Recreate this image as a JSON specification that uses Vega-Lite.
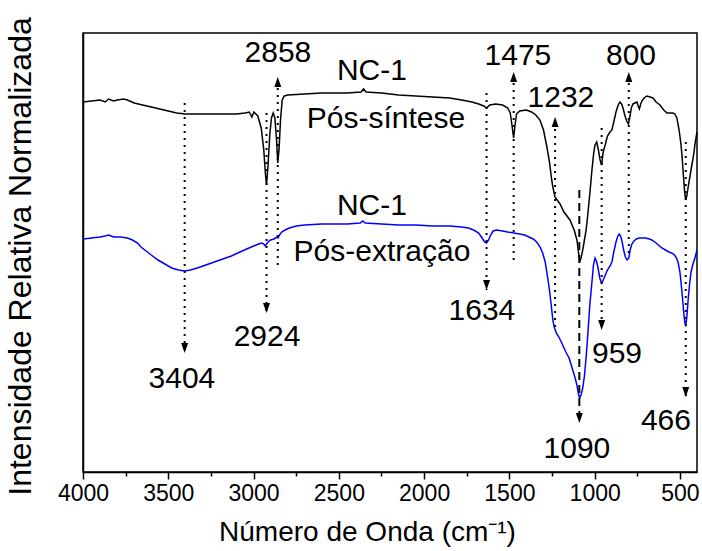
{
  "$schema": "https://vega.github.io/schema/vega-lite/v6.json",
  "width": 614,
  "height": 439,
  "autosize": {"type": "none"},
  "padding": {"left": 83, "top": 33, "right": 5, "bottom": 79},
  "background": "white",
  "config": {
    "font": "Liberation Sans",
    "view": {"stroke": "#000000", "strokeWidth": 1.5}
  },
  "datasets": {
    "black": [
      {"wn":4000,"y":370},{"wn":3950,"y":371},{"wn":3900,"y":372},{"wn":3870,"y":370},{"wn":3850,"y":373},{"wn":3820,"y":371},{"wn":3800,"y":372},{"wn":3760,"y":373},{"wn":3740,"y":372},{"wn":3700,"y":369},{"wn":3650,"y":367},{"wn":3600,"y":365},{"wn":3550,"y":363},{"wn":3500,"y":361},{"wn":3450,"y":359},{"wn":3400,"y":358},{"wn":3300,"y":358},{"wn":3200,"y":358},{"wn":3100,"y":358},{"wn":3050,"y":359},{"wn":3025,"y":360},{"wn":3010,"y":355},{"wn":2998,"y":360},{"wn":2975,"y":356},{"wn":2955,"y":344},{"wn":2940,"y":322},{"wn":2930,"y":297},{"wn":2924,"y":287},{"wn":2915,"y":307},{"wn":2905,"y":337},{"wn":2895,"y":354},{"wn":2885,"y":359},{"wn":2875,"y":354},{"wn":2865,"y":332},{"wn":2858,"y":309},{"wn":2850,"y":324},{"wn":2842,"y":352},{"wn":2832,"y":372},{"wn":2820,"y":376},{"wn":2800,"y":377},{"wn":2700,"y":378},{"wn":2600,"y":379},{"wn":2450,"y":379},{"wn":2370,"y":380},{"wn":2355,"y":383},{"wn":2340,"y":380},{"wn":2250,"y":379},{"wn":2150,"y":377},{"wn":2050,"y":376},{"wn":1950,"y":375},{"wn":1850,"y":374},{"wn":1780,"y":372},{"wn":1720,"y":370},{"wn":1680,"y":368},{"wn":1650,"y":366},{"wn":1634,"y":364},{"wn":1615,"y":367},{"wn":1580,"y":368},{"wn":1540,"y":367},{"wn":1510,"y":364},{"wn":1495,"y":359},{"wn":1485,"y":347},{"wn":1475,"y":334},{"wn":1467,"y":347},{"wn":1458,"y":358},{"wn":1440,"y":361},{"wn":1400,"y":362},{"wn":1370,"y":360},{"wn":1345,"y":357},{"wn":1321,"y":352},{"wn":1300,"y":342},{"wn":1280,"y":325},{"wn":1265,"y":310},{"wn":1252,"y":292},{"wn":1245,"y":285},{"wn":1233,"y":275},{"wn":1220,"y":272},{"wn":1203,"y":268},{"wn":1180,"y":260},{"wn":1145,"y":252},{"wn":1120,"y":242},{"wn":1104,"y":232},{"wn":1095,"y":220},{"wn":1088,"y":210},{"wn":1080,"y":214},{"wn":1070,"y":222},{"wn":1060,"y":232},{"wn":1050,"y":242},{"wn":1040,"y":258},{"wn":1028,"y":279},{"wn":1016,"y":302},{"wn":1005,"y":320},{"wn":998,"y":327},{"wn":988,"y":330},{"wn":978,"y":322},{"wn":968,"y":312},{"wn":959,"y":307},{"wn":950,"y":320},{"wn":940,"y":326},{"wn":925,"y":336},{"wn":910,"y":340},{"wn":899,"y":342},{"wn":888,"y":350},{"wn":875,"y":360},{"wn":862,"y":367},{"wn":852,"y":370},{"wn":842,"y":368},{"wn":834,"y":364},{"wn":822,"y":356},{"wn":812,"y":351},{"wn":802,"y":348},{"wn":795,"y":354},{"wn":785,"y":364},{"wn":776,"y":368},{"wn":765,"y":369},{"wn":752,"y":370},{"wn":745,"y":366},{"wn":738,"y":363},{"wn":730,"y":368},{"wn":723,"y":371},{"wn":710,"y":374},{"wn":693,"y":376},{"wn":675,"y":375},{"wn":658,"y":374},{"wn":640,"y":370},{"wn":617,"y":367},{"wn":595,"y":362},{"wn":576,"y":359},{"wn":560,"y":359},{"wn":541,"y":359},{"wn":530,"y":358},{"wn":518,"y":354},{"wn":505,"y":342},{"wn":495,"y":329},{"wn":488,"y":317},{"wn":480,"y":297},{"wn":472,"y":279},{"wn":466,"y":272},{"wn":459,"y":277},{"wn":450,"y":287},{"wn":440,"y":297},{"wn":430,"y":307},{"wn":420,"y":317},{"wn":410,"y":330},{"wn":400,"y":340}
    ],
    "blue": [
      {"wn":4000,"y":233},{"wn":3950,"y":234},{"wn":3900,"y":235},{"wn":3870,"y":236},{"wn":3850,"y":237},{"wn":3820,"y":235},{"wn":3780,"y":235},{"wn":3740,"y":234},{"wn":3710,"y":232},{"wn":3680,"y":229},{"wn":3660,"y":225},{"wn":3630,"y":221},{"wn":3600,"y":217},{"wn":3560,"y":212},{"wn":3520,"y":208},{"wn":3480,"y":204},{"wn":3440,"y":202},{"wn":3404,"y":201},{"wn":3370,"y":202},{"wn":3330,"y":204},{"wn":3280,"y":207},{"wn":3230,"y":210},{"wn":3180,"y":213},{"wn":3130,"y":216},{"wn":3080,"y":220},{"wn":3040,"y":223},{"wn":3000,"y":226},{"wn":2970,"y":228},{"wn":2950,"y":229},{"wn":2940,"y":228},{"wn":2932,"y":226},{"wn":2924,"y":228},{"wn":2915,"y":230},{"wn":2900,"y":232},{"wn":2880,"y":233},{"wn":2862,"y":235},{"wn":2856,"y":234},{"wn":2848,"y":237},{"wn":2835,"y":240},{"wn":2815,"y":242},{"wn":2790,"y":244},{"wn":2750,"y":246},{"wn":2700,"y":247},{"wn":2600,"y":248},{"wn":2450,"y":248},{"wn":2375,"y":249},{"wn":2360,"y":251},{"wn":2345,"y":249},{"wn":2250,"y":248},{"wn":2150,"y":247},{"wn":2050,"y":247},{"wn":1950,"y":246},{"wn":1850,"y":246},{"wn":1780,"y":245},{"wn":1740,"y":244},{"wn":1710,"y":242},{"wn":1680,"y":239},{"wn":1660,"y":234},{"wn":1645,"y":230},{"wn":1634,"y":229},{"wn":1622,"y":232},{"wn":1610,"y":237},{"wn":1595,"y":241},{"wn":1575,"y":242},{"wn":1540,"y":241},{"wn":1510,"y":240},{"wn":1475,"y":239},{"wn":1440,"y":238},{"wn":1410,"y":237},{"wn":1385,"y":235},{"wn":1360,"y":233},{"wn":1340,"y":230},{"wn":1320,"y":225},{"wn":1305,"y":219},{"wn":1290,"y":210},{"wn":1278,"y":197},{"wn":1265,"y":182},{"wn":1255,"y":167},{"wn":1245,"y":152},{"wn":1237,"y":145},{"wn":1225,"y":139},{"wn":1210,"y":135},{"wn":1190,"y":128},{"wn":1169,"y":120},{"wn":1150,"y":114},{"wn":1134,"y":105},{"wn":1118,"y":96},{"wn":1104,"y":87},{"wn":1095,"y":78},{"wn":1088,"y":74},{"wn":1080,"y":77},{"wn":1070,"y":84},{"wn":1060,"y":96},{"wn":1050,"y":115},{"wn":1040,"y":138},{"wn":1028,"y":168},{"wn":1016,"y":190},{"wn":1007,"y":207},{"wn":998,"y":214},{"wn":990,"y":211},{"wn":981,"y":205},{"wn":970,"y":194},{"wn":960,"y":189},{"wn":952,"y":191},{"wn":940,"y":196},{"wn":925,"y":202},{"wn":910,"y":206},{"wn":899,"y":210},{"wn":888,"y":220},{"wn":875,"y":230},{"wn":864,"y":236},{"wn":856,"y":238},{"wn":848,"y":236},{"wn":840,"y":231},{"wn":830,"y":222},{"wn":820,"y":215},{"wn":810,"y":212},{"wn":800,"y":214},{"wn":792,"y":222},{"wn":782,"y":228},{"wn":770,"y":231},{"wn":755,"y":233},{"wn":740,"y":234},{"wn":720,"y":234},{"wn":700,"y":234},{"wn":680,"y":233},{"wn":665,"y":232},{"wn":640,"y":229},{"wn":620,"y":226},{"wn":606,"y":224},{"wn":585,"y":222},{"wn":565,"y":220},{"wn":548,"y":219},{"wn":532,"y":217},{"wn":520,"y":214},{"wn":510,"y":209},{"wn":500,"y":200},{"wn":492,"y":187},{"wn":485,"y":174},{"wn":478,"y":160},{"wn":471,"y":149},{"wn":466,"y":147},{"wn":460,"y":154},{"wn":452,"y":172},{"wn":444,"y":187},{"wn":435,"y":200},{"wn":425,"y":207},{"wn":412,"y":214},{"wn":400,"y":222}
    ],
    "rules": [
      {"wn":3404,"y":369,"y2":119,"style":"dot"},
      {"wn":2924,"y":359,"y2":159,"style":"dot"},
      {"wn":2858,"y":207,"y2":395,"style":"dot"},
      {"wn":1634,"y":379,"y2":182,"style":"dot"},
      {"wn":1475,"y":212,"y2":400,"style":"dot"},
      {"wn":1232,"y":145,"y2":355,"style":"dot"},
      {"wn":800,"y":219,"y2":400,"style":"dot"},
      {"wn":959,"y":344,"y2":142,"style":"dot"},
      {"wn":1090,"y":282,"y2":49,"style":"dash"},
      {"wn":466,"y":330,"y2":75,"style":"dot"}
    ],
    "arrows": [
      {"wn":3404,"y":124,"dir":"down"},
      {"wn":2924,"y":164,"dir":"down"},
      {"wn":2858,"y":390,"dir":"up"},
      {"wn":1634,"y":187,"dir":"down"},
      {"wn":1475,"y":395,"dir":"up"},
      {"wn":1232,"y":350,"dir":"up"},
      {"wn":800,"y":395,"dir":"up"},
      {"wn":959,"y":147,"dir":"down"},
      {"wn":1090,"y":54,"dir":"down"},
      {"wn":466,"y":80,"dir":"down"}
    ],
    "labels": [
      {"wn":2857,"y":410,"label":"2858"},
      {"wn":2921,"y":126,"label":"2924"},
      {"wn":3420,"y":84,"label":"3404"},
      {"wn":1661,"y":152,"label":"1634"},
      {"wn":1450,"y":407,"label":"1475"},
      {"wn":1198,"y":365,"label":"1232"},
      {"wn":787,"y":407,"label":"800"},
      {"wn":869,"y":109,"label":"959"},
      {"wn":1104,"y":14,"label":"1090"},
      {"wn":582,"y":42,"label":"466"},
      {"wn":2306,"y":392,"label":"NC-1"},
      {"wn":2224,"y":344,"label":"Pós-síntese"},
      {"wn":2306,"y":257,"label":"NC-1"},
      {"wn":2247,"y":211,"label":"Pós-extração"}
    ]
  },
  "encoding": {
    "x": {
      "field": "wn",
      "type": "quantitative",
      "scale": {"domain": [400, 4000], "reverse": true, "nice": false, "zero": false},
      "axis": {
        "values": [4000,3750,3500,3250,3000,2750,2500,2250,2000,1750,1500,1250,1000,750,500],
        "format": "d",
        "labelExpr": "datum.value % 500 === 0 ? datum.label : ''",
        "tickSize": {"condition": {"test": "datum.value % 500 === 0", "value": 7}, "value": 4},
        "tickWidth": 1.5,
        "tickColor": "#000000",
        "domainColor": "#000000",
        "domainWidth": 1.5,
        "grid": false,
        "labelFontSize": 23,
        "labelColor": "#000000",
        "labelPadding": 3,
        "labelFlush": false,
        "labelOverlap": false,
        "title": "Número de Onda (cm⁻¹)",
        "titleFontSize": 28,
        "titleFontWeight": "normal",
        "titleColor": "#000000",
        "titleX": 284,
        "titleY": 68,
        "titleAlign": "center",
        "titleBaseline": "alphabetic"
      }
    },
    "y": {
      "field": "y",
      "type": "quantitative",
      "scale": {"domain": [0, 439], "nice": false, "zero": false},
      "axis": {
        "ticks": false,
        "labels": false,
        "grid": false,
        "domainColor": "#000000",
        "domainWidth": 1.5,
        "title": "Intensidade Relativa Normalizada",
        "titleFontSize": 32,
        "titleFontWeight": "normal",
        "titleColor": "#000000",
        "titleAngle": 270,
        "titleX": -53,
        "titleY": 223,
        "titleAlign": "center",
        "titleBaseline": "alphabetic"
      }
    }
  },
  "layer": [
    {
      "data": {"name": "black"},
      "mark": {"type": "line", "color": "#000000", "strokeWidth": 1.5},
      "encoding": {}
    },
    {
      "data": {"name": "blue"},
      "mark": {"type": "line", "color": "#0000ff", "strokeWidth": 1.5},
      "encoding": {}
    },
    {
      "data": {"name": "rules"},
      "mark": {"type": "rule", "color": "#000000", "strokeWidth": 2},
      "encoding": {
        "y2": {"field": "y2"},
        "strokeDash": {
          "field": "style",
          "type": "nominal",
          "scale": {"domain": ["dot", "dash"], "range": [[2, 5], [8, 5]]},
          "legend": null
        }
      }
    },
    {
      "data": {"name": "arrows"},
      "mark": {"type": "point", "filled": true, "color": "#000000", "opacity": 1, "size": 100},
      "encoding": {
        "shape": {
          "field": "dir",
          "type": "nominal",
          "scale": {"domain": ["down", "up"], "range": ["M-0.7,-1L0.7,-1L0,1Z", "M-0.7,1L0.7,1L0,-1Z"]},
          "legend": null
        }
      }
    },
    {
      "data": {"name": "labels"},
      "mark": {"type": "text", "fontSize": 30, "color": "#000000", "align": "center", "baseline": "alphabetic", "font": "Liberation Sans"},
      "encoding": {
        "text": {"field": "label", "type": "nominal"}
      }
    }
  ]
}
